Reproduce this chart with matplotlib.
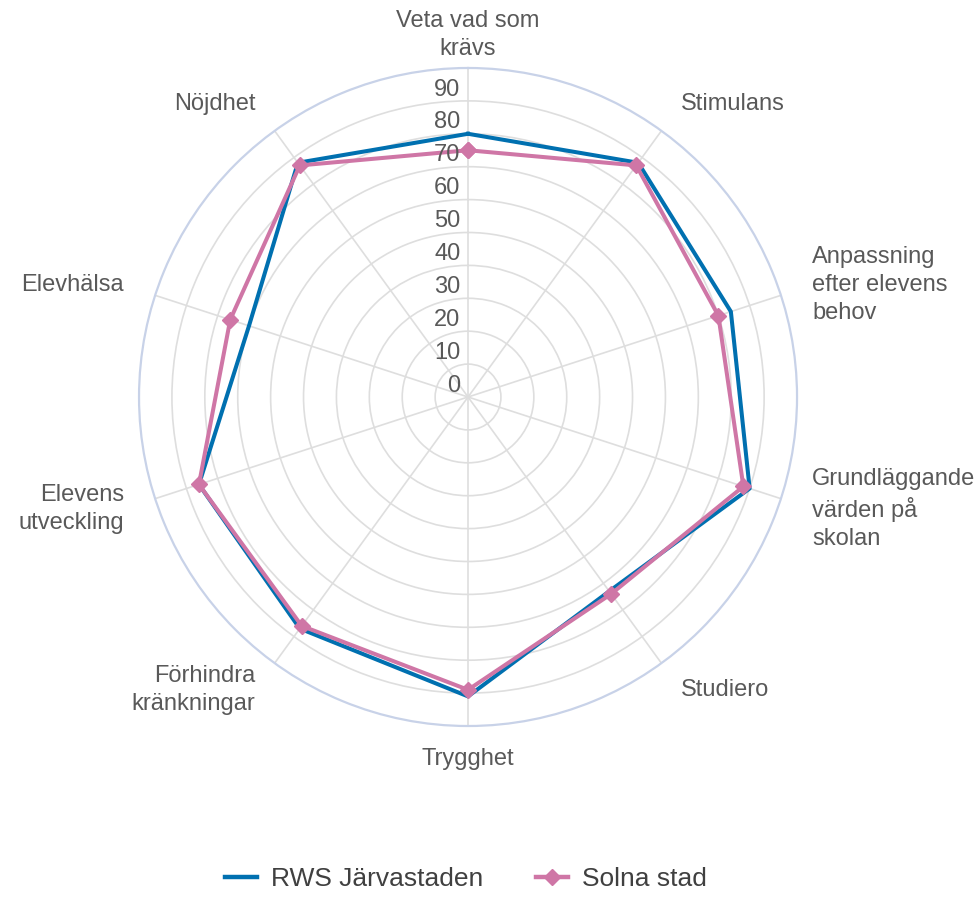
"""
Radar chart: RWS Järvastaden compared with Solna stad.
"""

import numpy as np
import matplotlib
matplotlib.use("Agg")
import matplotlib.pyplot as plt
from matplotlib.lines import Line2D

plt.rcParams['font.family'] = ['Liberation Sans', 'DejaVu Sans']

# Data
categories = [
    "Veta vad som\nkrävs",
    "Stimulans",
    "Anpassning\nefter elevens\nbehov",
    "Grundläggande\nvärden på\nskolan",
    "Studiero",
    "Trygghet",
    "Förhindra\nkränkningar",
    "Elevens\nutveckling",
    "Elevhälsa",
    "Nöjdhet",
]
rws = [80, 88, 84, 90, 73, 91, 87, 86, 70, 88]
solna = [75, 87, 80, 88, 74, 89, 86, 86, 76, 87]
series_names = ["RWS Järvastaden", "Solna stad"]
r_ticks = list(range(0, 100, 10))

BLUE = "#0070B0"
PINK = "#CF76A6"
GRID = "#DEDEDE"
RING = "#C8D2E8"
TEXT = "#595959"

# angles for each category, closed polygon
n = len(categories)
angles = np.linspace(0, 2 * np.pi, n, endpoint=False)
closed = np.append(angles, angles[0])

fig = plt.figure(figsize=(9.77, 8.99), dpi=100)
ax = fig.add_axes([0.1423, 0.1924, 0.6735, 0.732], projection='polar')
ax.set_theta_zero_location('N')
ax.set_theta_direction(-1)
ax.set_ylim(0, 100)

ax.set_xticks(angles)
ax.set_xticklabels([])
ax.set_yticks(r_ticks[1:])
ax.set_yticklabels([])
ax.tick_params(length=0)
ax.grid(color=GRID, lw=1.2)
ax.spines['polar'].set_color(RING)
ax.spines['polar'].set_linewidth(1.6)

# series
ax.plot(closed, rws + rws[:1], color=BLUE, lw=2.9, zorder=3)
ax.plot(closed, solna + solna[:1], color=PINK, lw=2.9, marker='D',
        markersize=8, zorder=4)

# radial value labels along the top spoke
for v in r_ticks:
    ax.annotate(str(v), xy=(0, v), xytext=(-5.5, 8.2), textcoords='offset points',
                ha='right', va='center', fontsize=17, color=TEXT, zorder=5)

# category labels outside the ring
for ang, lab in zip(angles, categories):
    s = np.sin(ang)
    if abs(s) < 1e-6:
        ha = 'center'
    elif s > 0:
        ha = 'left'
    else:
        ha = 'right'
    ax.text(ang, 110, lab, ha=ha, va='center', fontsize=17, color=TEXT,
            linespacing=1.35, multialignment=ha)

handles = [
    Line2D([], [], color=BLUE, lw=3.2),
    Line2D([], [], color=PINK, lw=3.2, marker='D', markersize=8),
]
fig.legend(handles, series_names, loc='lower center', bbox_to_anchor=(0.477, -0.018),
           ncol=2, frameon=False, fontsize=19, handlelength=1.2,
           handletextpad=0.55, columnspacing=2.0, labelcolor='#404040')

fig.savefig("out.png", dpi=100)
